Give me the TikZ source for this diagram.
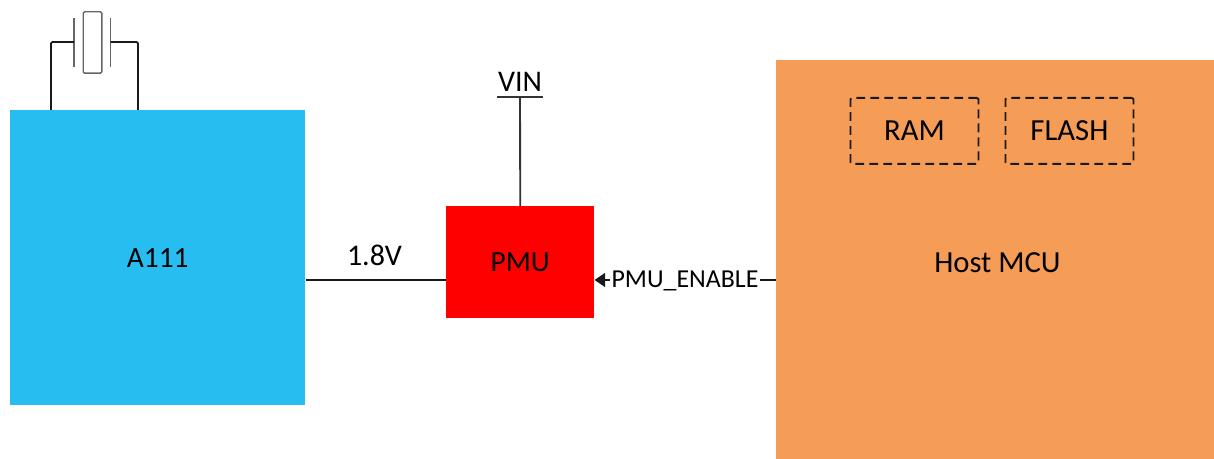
\documentclass[tikz,border=0pt]{standalone}
\usepackage{fontspec}
\setmainfont{Carlito}
\usetikzlibrary{arrows.meta}
\definecolor{chipblue}{HTML}{27BDF1}
\definecolor{hostorange}{HTML}{F59D56}
\definecolor{pmured}{HTML}{FF0000}
\tikzset{
  x=0.75pt,y=-0.75pt,
  blockbox/.style={draw=none,inner sep=0pt,anchor=north west,font=\fontsize{22}{26}\selectfont},
  membox/.style={draw=black!90,dashed,dash pattern=on 6.6pt off 3.9pt,line width=1.4pt,rounded corners=1pt,inner sep=0pt,anchor=north west,minimum width=96pt,minimum height=49.5pt,font=\fontsize{23}{26}\selectfont},
  wire/.style={draw=black!90,line width=1.4pt,line join=round},
  graywire/.style={draw=black!80,line width=1.4pt},
  plate/.style={draw=black!60,line width=1pt},
  lab/.style={inner sep=0pt,font=\fontsize{22.5}{26}\selectfont},
}
\begin{document}
\begin{tikzpicture}
\useasboundingbox (0,0) rectangle (1214,459);
% blocks
\node[blockbox,fill=chipblue,minimum width=221.25pt,minimum height=221.25pt] (a111) at (10,110) {A111};
\node[blockbox,fill=pmured,minimum width=111pt,minimum height=84pt] (pmu) at (446,206) {PMU};
\node[blockbox,fill=hostorange,minimum width=328.5pt,minimum height=299.25pt] (host) at (776,60) {};
\node[lab,font=\fontsize{23}{26}\selectfont] (hostlabel) at (997.5,263) {Host MCU};
\node[membox] (ram) at (849.5,97) {RAM};
\node[membox] (flash) at (1004.5,97) {FLASH};
% crystal
\node[draw=black!60,line width=1pt,rounded corners=1pt,inner sep=0pt,minimum width=14pt,minimum height=46pt] (xtal) at (92.5,42.5) {};
\coordinate (pla) at (74,18);
\coordinate (plb) at (74,67);
\coordinate (pra) at (110.5,18);
\coordinate (prb) at (110.5,67);
\coordinate (pl) at (74,42);
\coordinate (pr) at (110.5,42);
\coordinate (xl) at (51,110);
\coordinate (xr) at (138,110);
\draw[plate] (pla) -- (plb);
\draw[plate] (pra) -- (prb);
\draw[wire,rounded corners=1pt] (xl) -- (xl |- pl) -- (pl);
\draw[wire,rounded corners=1pt] (xr) -- (xr |- pr) -- (pr);
% VIN
\coordinate (vinl) at (497,97);
\coordinate (vinr) at (543,97);
\coordinate (vin) at (520,97);
\node[lab] (vinlabel) at (520,82) {VIN};
\draw[graywire] (vinl) -- (vinr);
\draw[graywire] (vin) -- (pmu.north);
% 1.8V
\coordinate (pmuL) at (pmu.west |- 0,280);
\coordinate (aR) at (a111.east |- 0,280);
\coordinate (hostL) at (host.west |- 0,280);
\coordinate (pmuR) at (pmu.east |- 0,280);
\draw[wire] (aR) -- (pmuL);
\node[lab] (v18) at (374.5,255) {1.8V};
% enable
\draw[wire,-{Triangle[length=8pt,width=10.5pt]}] (hostL) -- (pmuR);
\node[fill=white,inner xsep=1.5pt,inner ysep=1pt,font=\fontsize{19.4}{22}\selectfont] (en) at (685,281) {PMU\_ENABLE};
\end{tikzpicture}
\end{document}
